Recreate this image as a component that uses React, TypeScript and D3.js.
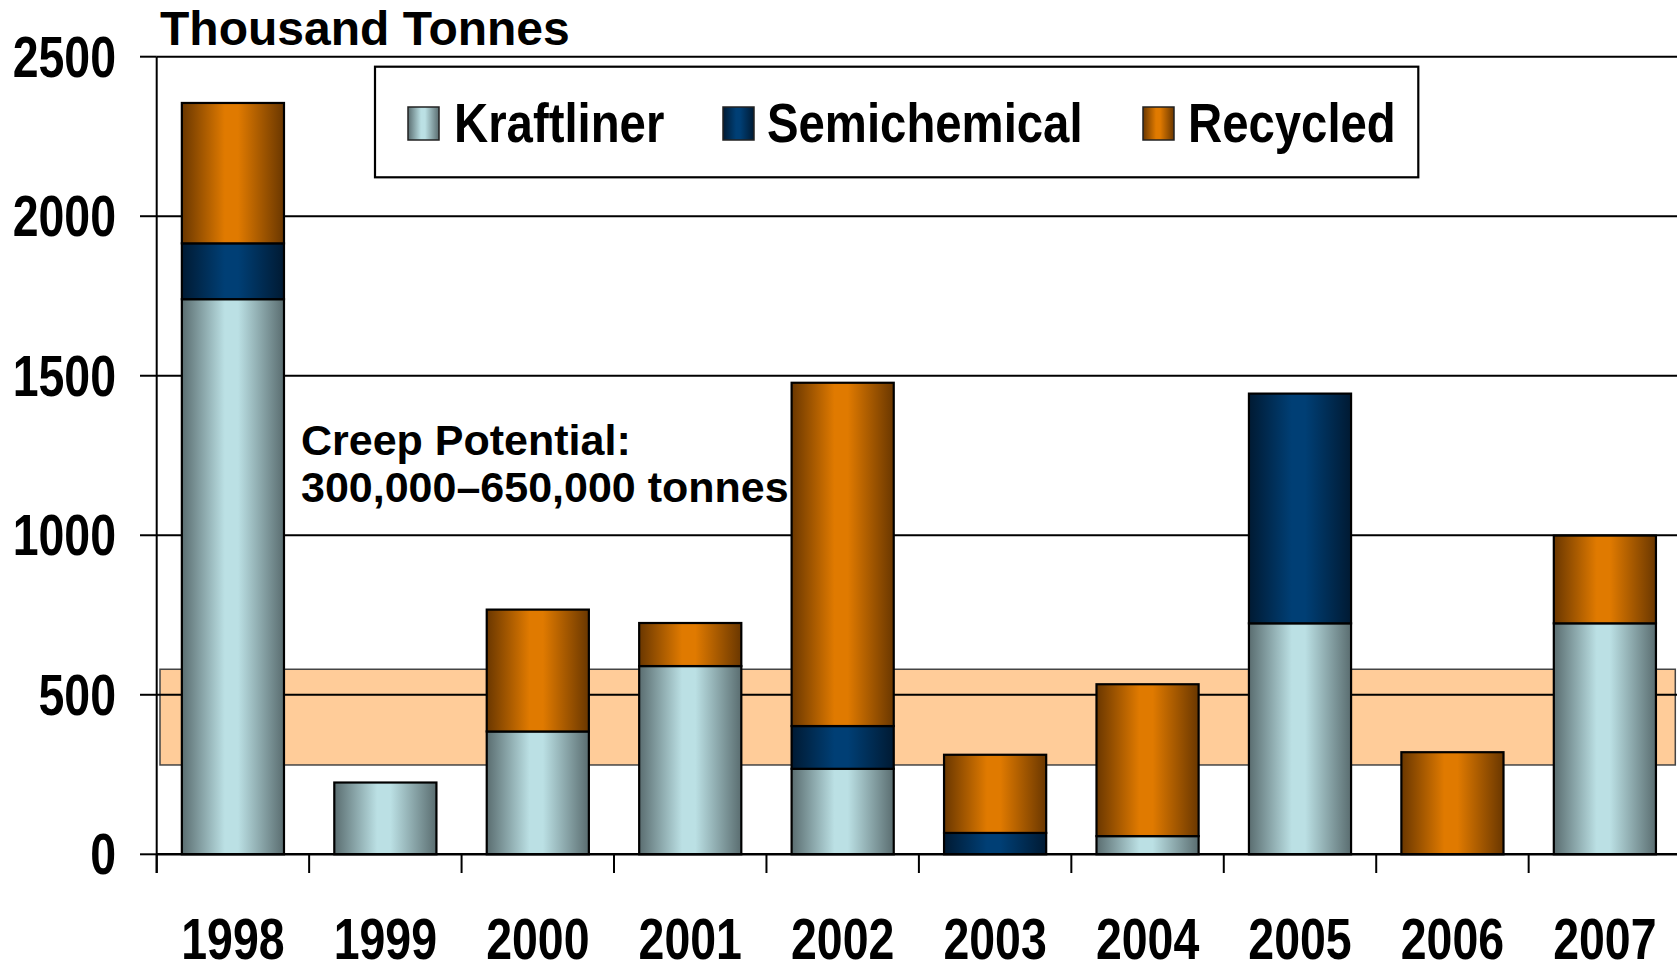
import React from 'react';
import * as d3 from 'd3';

const years = ['1998', '1999', '2000', '2001', '2002', '2003', '2004', '2005', '2006', '2007'];
const kraftliner = [1740, 225, 385, 590, 268, 0, 57, 724, 0, 724];
const semichemical = [175, 0, 0, 0, 134, 67, 0, 720, 0, 0];
const recycled = [440, 0, 382, 135, 1076, 245, 476, 0, 320, 275];
const seriesNames = ['Kraftliner', 'Semichemical', 'Recycled'];
const yTicks = [0, 500, 1000, 1500, 2000, 2500];
const creepBand = [280, 580];
const titleText = 'Thousand Tonnes';
const creepLines = ['Creep Potential:', '300,000\u2013650,000 tonnes'];

const W = 1677;
const H = 965;
const FONT = "'Liberation Sans', Arial, sans-serif";
const NARROW = 0.815;
const LEGEND_NARROW = 0.845;

const gradients: Record<string, { dark: string; light: string }> = {
  Kraftliner: { dark: '#5a6d70', light: '#bbe0e4' },
  Semichemical: { dark: '#001a33', light: '#003f75' },
  Recycled: { dark: '#6a3700', light: '#e07a00' },
};

export default function App() {
  const x = d3.scaleBand<string>().domain(years).range([156.7, 1681.1]).paddingInner(0.33).paddingOuter(0.165);
  const y = d3.scaleLinear().domain([0, 2500]).range([854.3, 56.7]);
  const rows = years.map((yr, i) => ({
    year: yr,
    Kraftliner: kraftliner[i],
    Semichemical: semichemical[i],
    Recycled: recycled[i],
  }));
  const stacked = d3.stack<any>().keys(seriesNames)(rows);
  const x0 = x.range()[0];
  const step = x.step();
  const tickXs = d3.range(years.length + 1).map((k) => x0 + k * step);

  const legendItems = [
    { name: 'Kraftliner', sx: 408, tx: 454 },
    { name: 'Semichemical', sx: 723, tx: 767 },
    { name: 'Recycled', sx: 1143, tx: 1188 },
  ];

  return (
    <svg width={W} height={H} style={{ position: 'absolute', left: 0, top: 0, background: '#fff' }}>
      <defs>
        {seriesNames.map((n) => (
          <linearGradient key={n} id={`g-${n}`} x1="0" x2="1" y1="0" y2="0">
            <stop offset="0" stopColor={gradients[n].dark} />
            <stop offset="0.42" stopColor={gradients[n].light} />
            <stop offset="0.55" stopColor={gradients[n].light} />
            <stop offset="1" stopColor={gradients[n].dark} />
          </linearGradient>
        ))}
      </defs>

      {/* creep band */}
      <rect
        x={160}
        y={y(creepBand[1])}
        width={1675.3 - 160}
        height={y(creepBand[0]) - y(creepBand[1])}
        fill="#ffcc99"
        stroke="#444"
        strokeWidth={1.5}
      />

      {/* gridlines and y ticks */}
      {yTicks.map((t) => (
        <g key={t}>
          {t > 0 && <line x1={x0} x2={W} y1={y(t)} y2={y(t)} stroke="#000" strokeWidth={2} />}
          <line x1={140} x2={x0} y1={y(t)} y2={y(t)} stroke="#000" strokeWidth={2} />
          <text
            transform={`translate(116,${y(t) + 20}) scale(${NARROW},1)`}
            textAnchor="end"
            fontFamily={FONT}
            fontWeight="bold"
            fontSize={57}
            fill="#000"
          >
            {t}
          </text>
        </g>
      ))}

      {/* bars */}
      {stacked.map((s) => (
        <g key={s.key}>
          {s.map((d: any, i: number) =>
            d[1] - d[0] > 0 ? (
              <rect
                key={i}
                x={x(years[i])}
                y={y(d[1])}
                width={x.bandwidth()}
                height={y(d[0]) - y(d[1])}
                fill={`url(#g-${s.key})`}
                stroke="#000"
                strokeWidth={2.2}
              />
            ) : null
          )}
        </g>
      ))}

      {/* axes */}
      <line x1={x0} x2={W} y1={y(0)} y2={y(0)} stroke="#000" strokeWidth={2.5} />
      <line x1={x0} x2={x0} y1={y(2500)} y2={873} stroke="#000" strokeWidth={2} />
      {tickXs.map((tx, k) => (
        <line key={k} x1={tx} x2={tx} y1={y(0)} y2={873} stroke="#000" strokeWidth={2} />
      ))}
      {years.map((yr) => (
        <text
          key={yr}
          transform={`translate(${(x(yr) as number) + x.bandwidth() / 2},959) scale(${NARROW},1)`}
          textAnchor="middle"
          fontFamily={FONT}
          fontWeight="bold"
          fontSize={57}
          fill="#000"
        >
          {yr}
        </text>
      ))}

      {/* title */}
      <text x={160} y={45} fontFamily={FONT} fontWeight="bold" fontSize={48} fill="#000">
        {titleText}
      </text>

      {/* creep annotation */}
      {creepLines.map((l, i) => (
        <text key={i} x={301} y={455 + i * 47} fontFamily={FONT} fontWeight="bold" fontSize={43} fill="#000">
          {l}
        </text>
      ))}

      {/* legend */}
      <rect x={375} y={66.7} width={1418.3 - 375} height={177.3 - 66.7} fill="#fff" stroke="#000" strokeWidth={2.2} />
      {legendItems.map((it) => (
        <g key={it.name}>
          <rect x={it.sx} y={107} width={31} height={33} fill={`url(#g-${it.name})`} stroke="#222" strokeWidth={1.5} />
          <text
            transform={`translate(${it.tx},141.7) scale(${LEGEND_NARROW},1)`}
            fontFamily={FONT}
            fontWeight="bold"
            fontSize={56}
            fill="#000"
          >
            {it.name}
          </text>
        </g>
      ))}
    </svg>
  );
}
